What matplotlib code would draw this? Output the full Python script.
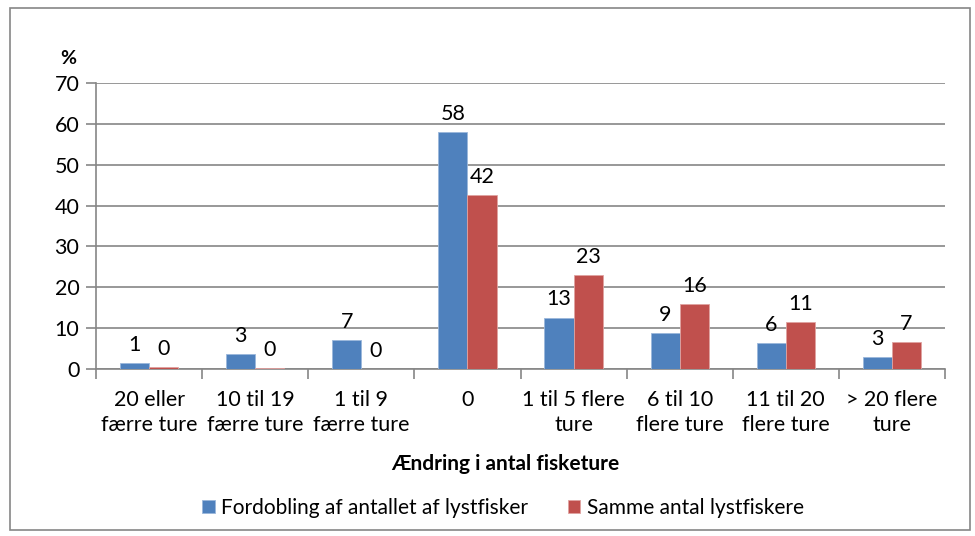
import matplotlib.pyplot as plt
import numpy as np

plt.rcParams['font.family'] = ['Lato', 'DejaVu Sans']

categories = ['20 eller\nfærre ture', '10 til 19\nfærre ture', '1 til 9\nfærre ture', '0',
              '1 til 5 flere\nture', '6 til 10\nflere ture', '11 til 20\nflere ture', '> 20 flere\nture']
fordobling = [1.4, 3.6, 7.0, 57.9, 12.6, 8.7, 6.4, 2.9]
samme = [0.4, 0.2, 0.0, 42.5, 23.0, 15.9, 11.5, 6.6]
labels_fordobling = ['1', '3', '7', '58', '13', '9', '6', '3']
labels_samme = ['0', '0', '0', '42', '23', '16', '11', '7']

blue = '#4F81BD'
red = '#C0504D'
grey = '#868686'

fig = plt.figure(figsize=(9.75, 5.36), dpi=100)
ax = fig.add_axes([96 / 975, 1 - 369 / 536, (945 - 96) / 975, (369 - 83) / 536])

x = np.arange(len(categories))
w = 0.275
b1 = ax.bar(x - w / 2, fordobling, w, color=blue, edgecolor='#9BB7DB', linewidth=0.6, zorder=3,
            label='Fordobling af antallet af lystfisker')
b2 = ax.bar(x + w / 2, samme, w, color=red, edgecolor='#E0A3A1', linewidth=0.6, zorder=3,
            label='Samme antal lystfiskere')
ax.bar_label(b1, labels=labels_fordobling, padding=6, fontsize=15.5)
ax.bar_label(b2, labels=labels_samme, padding=6, fontsize=15.5)

ax.set_xlim(-0.5, len(categories) - 0.5)
ax.set_ylim(0, 70)
ax.set_yticks(range(0, 71, 10))
ax.yaxis.grid(True, color=grey, linewidth=1.2, zorder=0)
ax.set_xticks(x)
ax.set_xticklabels(categories, fontsize=15.5, linespacing=1.3)
ax.set_xticks(np.arange(-0.5, len(categories)), minor=True)
ax.tick_params(axis='x', which='major', length=0, pad=15)
ax.tick_params(axis='x', which='minor', length=7, color=grey, width=1.2)
ax.tick_params(axis='y', length=7, color=grey, width=1.2, labelsize=15.5, pad=5)

for s in ['top', 'right']:
    ax.spines[s].set_visible(False)
for s in ['left', 'bottom']:
    ax.spines[s].set_color(grey)
    ax.spines[s].set_linewidth(1.2)

fig.text(68 / 975, 1 - 58 / 536, '%', fontsize=14, fontweight='bold', ha='center', va='center')
fig.text(505 / 975, 1 - 464 / 536, 'Ændring i antal fisketure', fontsize=15, fontweight='bold',
         ha='center', va='center')

fig.legend(handles=[b1, b2], loc='center', bbox_to_anchor=(503 / 975, 1 - 508 / 536), ncol=2,
           frameon=False, fontsize=15, handlelength=0.6, handleheight=0.6, handletextpad=0.3,
           columnspacing=1.9)

border = plt.Rectangle((10 / 975, 6 / 536), 960 / 975, 522 / 536, transform=fig.transFigure,
                       fill=False, edgecolor=grey, linewidth=1.2)
fig.patches.append(border)

fig.savefig('out.png', dpi=100)
